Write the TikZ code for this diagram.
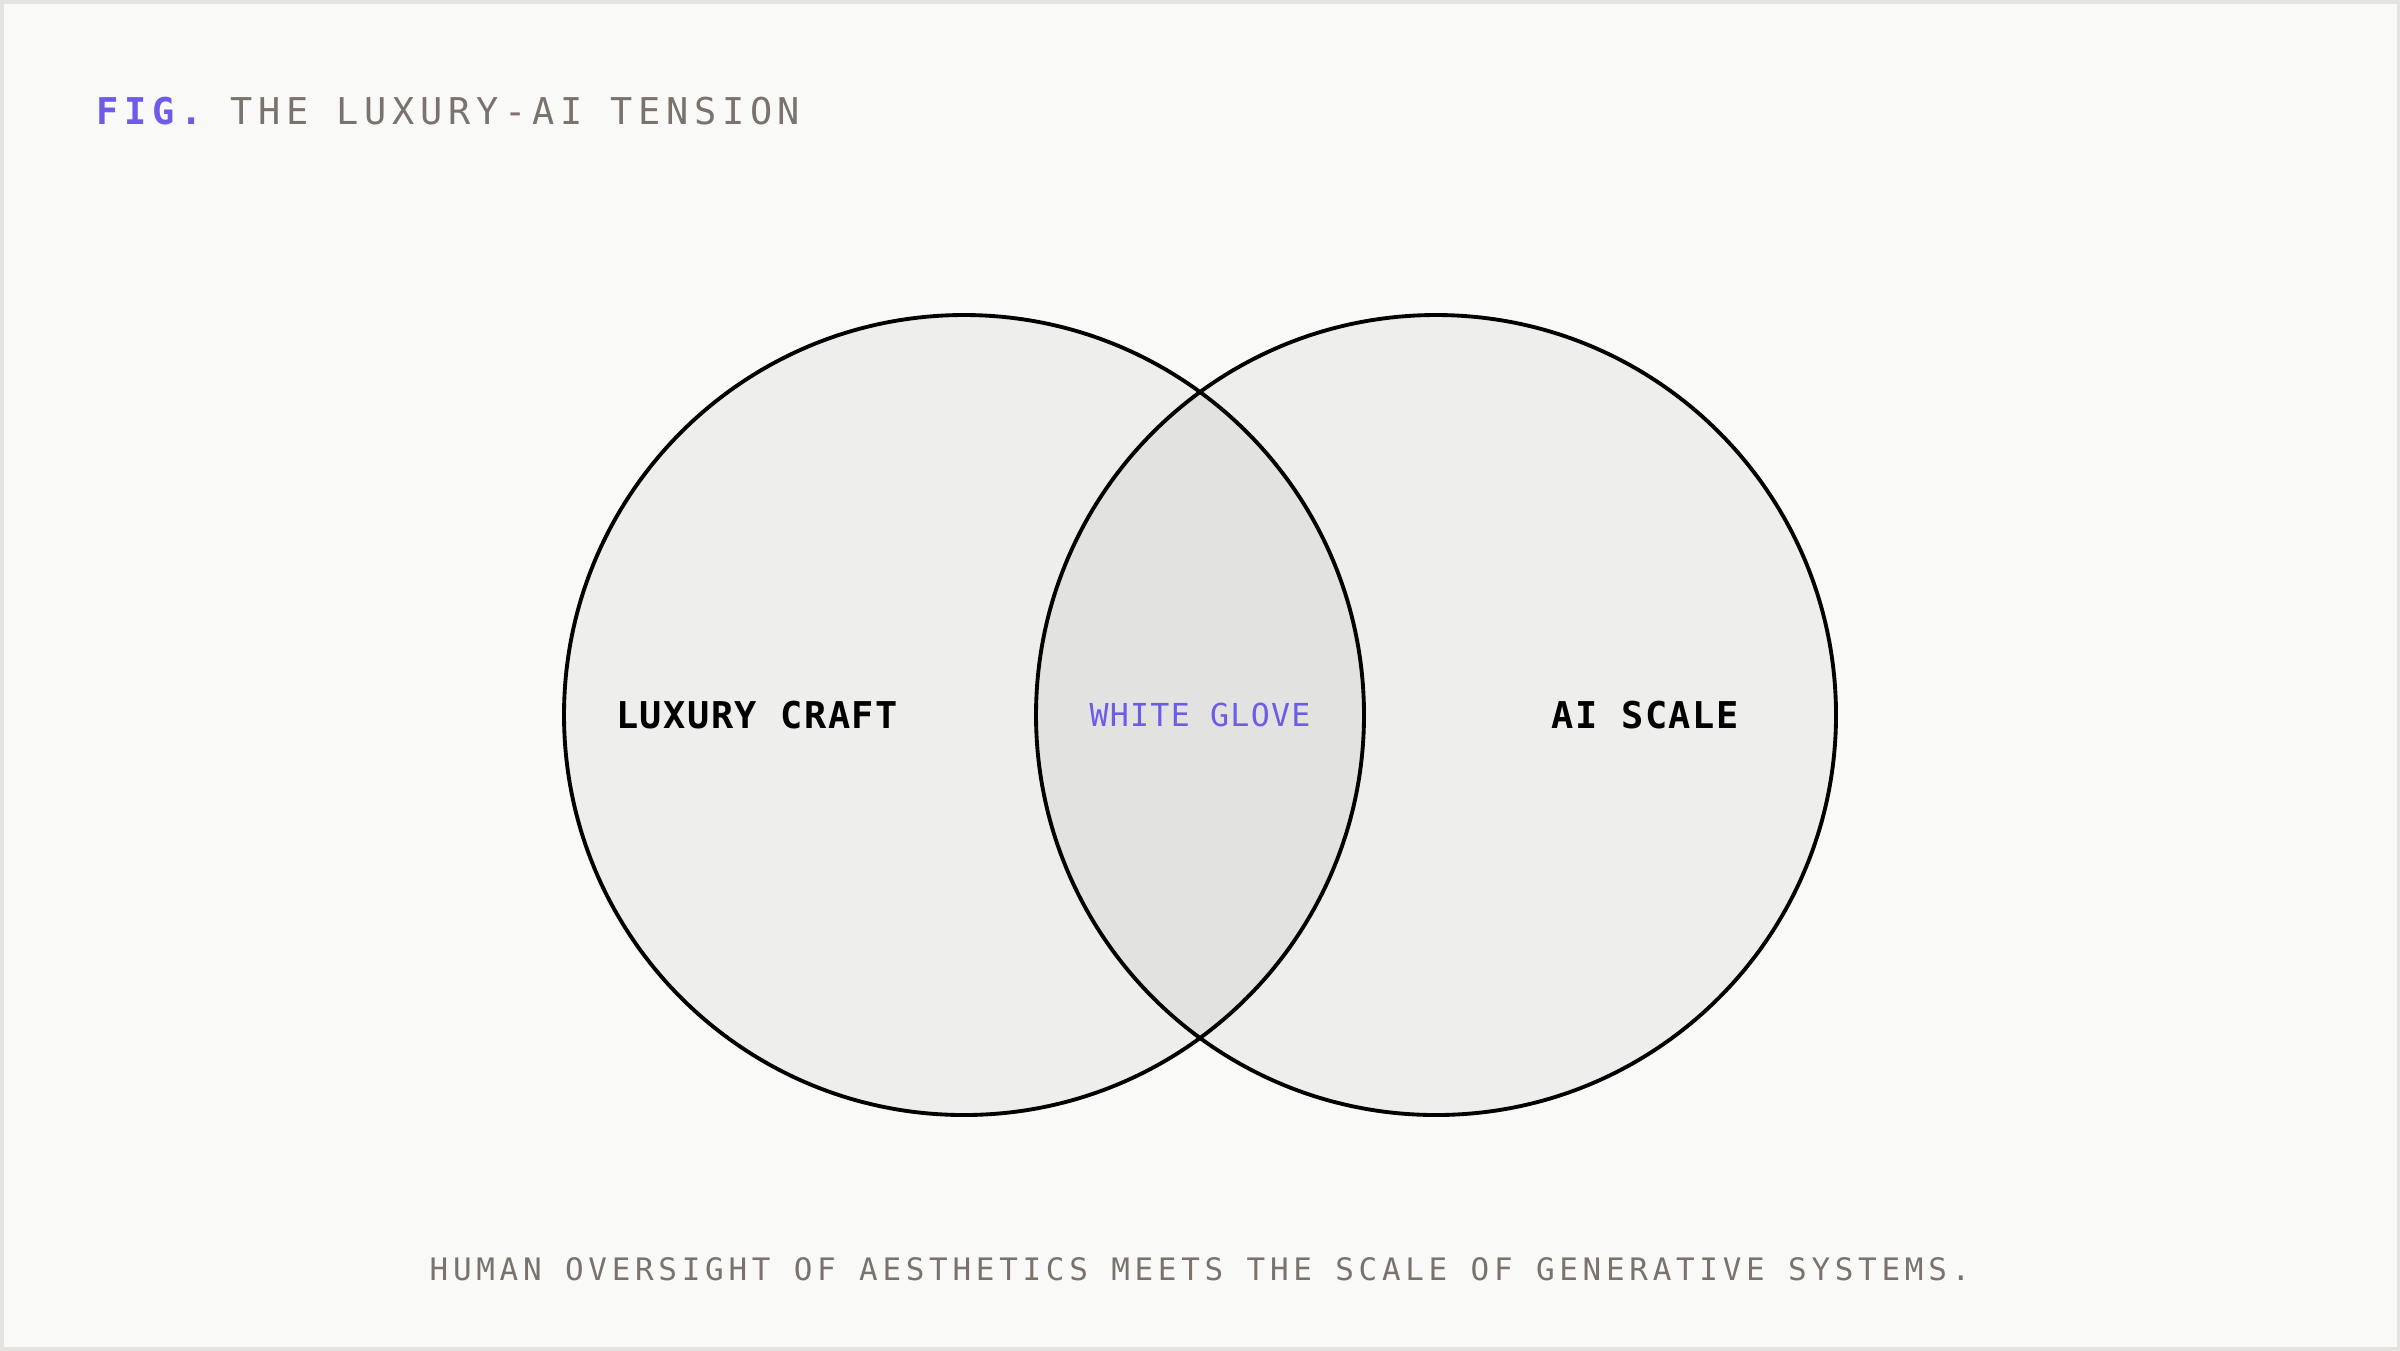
\documentclass[tikz,border=0pt]{standalone}
\usepackage{fontspec}
\setmonofont{DejaVu Sans Mono}
\newfontfamily\figfont[LetterSpace=15.5]{DejaVu Sans Mono}
\newfontfamily\capfont[LetterSpace=15.3]{DejaVu Sans Mono}
\newfontfamily\lblfont[LetterSpace=4]{DejaVu Sans Mono}
\usetikzlibrary{positioning, calc}

\definecolor{paper}{HTML}{F9F9F7}
\definecolor{frame}{HTML}{E4E3E0}
\definecolor{setfill}{HTML}{EEEEEC}
\definecolor{overlapfill}{HTML}{E2E2E1}
\definecolor{figpurple}{HTML}{6C5CE7}
\definecolor{figgray}{HTML}{7A726C}

\begin{document}
\begin{tikzpicture}[
  venn/.style={circle, minimum size=8cm, inner sep=0pt, fill=setfill},
  outline/.style={draw=black, line width=1.1pt},
  setlabel/.style={font={\lblfont\bfseries\fontsize{10.5}{12}\selectfont}, text=black},
  overlaplabel/.style={font={\lblfont\fontsize{9}{11}\selectfont}, text=figpurple},
]

  \useasboundingbox (0,0) rectangle (24,-13.5);
  \fill[paper] (0,0) rectangle (24,-13.5);
  \draw[frame, line width=0.07cm] (0,0) rectangle (24,-13.5);

  % the two sets
  \node[venn] (craft) at (9.64,-7.15) {};
  \node[venn] (scale) at (14.36,-7.15) {};
  \begin{scope}
    \clip (craft.center) circle (4cm);
    \fill[overlapfill] (scale.center) circle (4cm);
  \end{scope}
  \draw[outline] (craft.center) circle (4cm);
  \draw[outline] (scale.center) circle (4cm);

  \node[setlabel] (craftlbl) at ($(craft.center)+(-2.07,0)$) {LUXURY CRAFT};
  \node[setlabel] (scalelbl) at ($(scale.center)+(2.09,0)$) {AI SCALE};
  \node[overlaplabel] (glovelbl) at ($(craft.center)!0.5!(scale.center)$) {WHITE GLOVE};

  \node[anchor=base west, inner sep=0pt, font={\figfont\fontsize{10.5}{12}\selectfont}, text=figgray] (title) at (0.96,-1.243) {\textcolor{figpurple}{\bfseries FIG.} THE LUXURY-AI TENSION};
  \node[anchor=base, inner sep=0pt, font={\capfont\fontsize{8.8}{10}\selectfont}, text=figgray] (caption) at (12,-12.80) {HUMAN OVERSIGHT OF AESTHETICS MEETS THE SCALE OF GENERATIVE SYSTEMS.};

\end{tikzpicture}
\end{document}
